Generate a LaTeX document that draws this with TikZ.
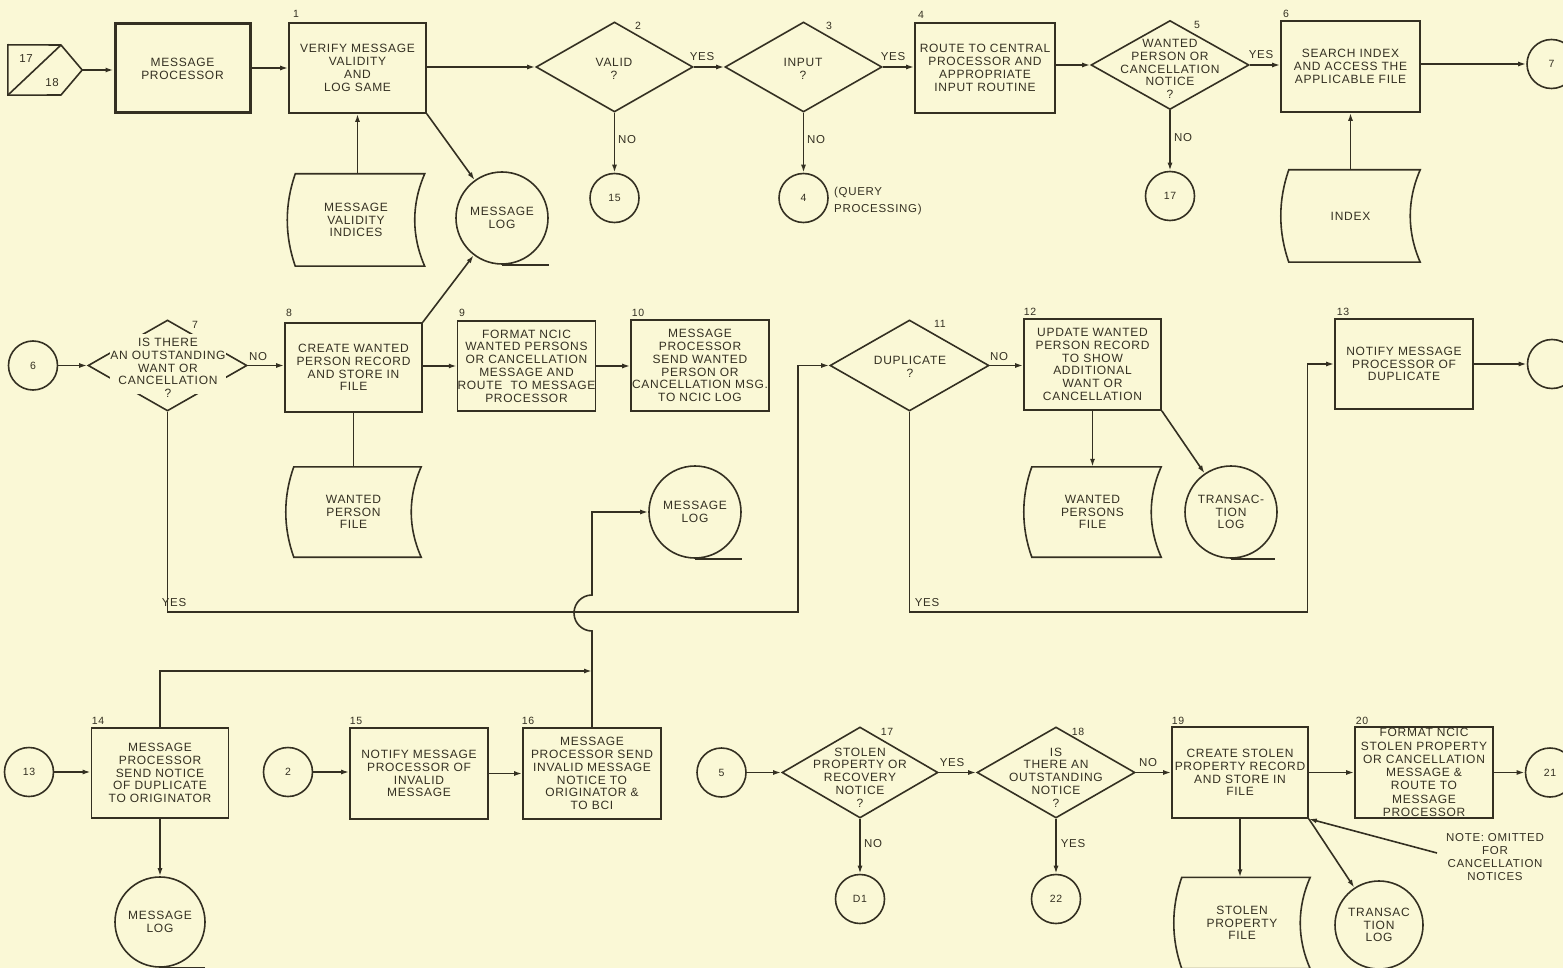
\documentclass[tikz,border=0pt]{standalone}
\usepackage{fontspec}
\setmainfont{Liberation Sans}[LetterSpace=6]
\usetikzlibrary{arrows.meta,shapes.geometric,calc}
\definecolor{bg}{RGB}{250,248,214}
\definecolor{ink}{RGB}{52,48,34}
\tikzset{
 every node/.style={font=\fontsize{12}{12.8}\selectfont, text=ink, inner sep=0pt, align=center},
 ln/.style={draw=ink, line width=1.6pt},
 arr/.style={ln, -{Latex[length=8pt,width=5pt]}},
 box/.style 2 args={rectangle, draw=ink, line width=1.6pt, minimum width=#1, minimum height=#2},
 dia/.style 2 args={diamond, draw=ink, line width=1.6pt, minimum width=#1, minimum height=#2},
 conn/.style={circle, draw=ink, line width=1.6pt, minimum size=49pt, font=\fontsize{10.5}{12}\selectfont},
 tape/.style={circle, draw=ink, line width=1.6pt, minimum size=92pt},
 docn/.style 2 args={rectangle, minimum width=#1, minimum height=#2},
 num/.style={font=\fontsize{10.5}{12}\selectfont},
 lbl/.style={font=\fontsize{11.5}{12}\selectfont},
}
\newcommand\docoutline[1]{%
 \draw[ln] ([xshift=8pt]#1.north west) -- (#1.north east)
   .. controls ($(#1.north east)!0.33!(#1.south east)+(-13.3,0)$) and ($(#1.north east)!0.67!(#1.south east)+(-13.3,0)$) .. (#1.south east)
   -- ([xshift=8pt]#1.south west)
   .. controls ($(#1.south west)!0.33!(#1.north west)+(-2.7,0)$) and ($(#1.south west)!0.67!(#1.north west)+(-2.7,0)$) .. ([xshift=8pt]#1.north west) -- cycle;}
\begin{document}
\begin{tikzpicture}[x=1pt,y=-1pt]
\fill[bg] (0,0) rectangle (1563,968);
\useasboundingbox (0,0) rectangle (1563,968);
\clip (0,0) rectangle (1563,968);

% ---------------- Row 1
\node[docn={74pt}{50pt}] (offp) at (45,70) {};
\draw[ln, line join=round] (offp.north west) -- (61,45) -- (offp.east) -- (61,95) -- (offp.south west) -- cycle;
\draw[ln] (offp.south west) -- (61,45);
\node[lbl] (o17) at (26,59) {17};
\node[lbl] (o18) at (52,83) {18};

\node[box={135pt}{89pt}, line width=3pt] (mp) at (182.5,68.5) {MESSAGE\\PROCESSOR};
\node[box={137pt}{90pt}] (b1) at (357.5,68) {VERIFY MESSAGE\\VALIDITY\\AND\\LOG SAME};
\node[num] (n1) at (296,14) {1};
\node[dia={157pt}{90pt}] (d2) at (614.5,67) {};
\node (t2) at (614,69) {VALID\\?};
\node[num] (n2) at (638,26) {2};
\node[dia={157pt}{90pt}] (d3) at (803.5,67) {};
\node (t3) at (803,69) {INPUT\\?};
\node[num] (n3) at (829,26) {3};
\node[box={140pt}{90pt}] (b4) at (985,68) {ROUTE TO CENTRAL\\PROCESSOR AND\\APPROPRIATE\\INPUT ROUTINE};
\node[num] (n4) at (921,15) {4};
\node[dia={158pt}{89pt}] (d5) at (1170,65) {};
\node (t5) at (1170,69) {WANTED\\PERSON OR\\CANCELLATION\\NOTICE\\?};
\node[num] (n5) at (1197,25) {5};
\node[box={139pt}{91pt}] (b6) at (1350.5,66.5) {SEARCH INDEX\\AND ACCESS THE\\APPLICABLE FILE};
\node[num] (n6) at (1286,14) {6};
\node[conn] (c7) at (1551.5,64) {7};
\node[conn] (c15) at (614.5,198) {15};
\node[conn] (c4) at (803.5,198) {4};
\node[anchor=west, align=left, font=\fontsize{11.5}{17}\selectfont] (qp) at (834,201.5) {(QUERY\\PROCESSING)};
\node[conn] (c17) at (1170,196) {17};
\node[docn={137pt}{92pt}] (val) at (356,220) {MESSAGE\\VALIDITY\\INDICES};
\docoutline{val}
\node[tape] (ml1) at (502,218) {MESSAGE\\LOG};
\draw[ln] (ml1.south) -- ++(47,0);
\node[docn={139pt}{92pt}] (idx) at (1350.5,216) {INDEX};
\docoutline{idx}

\draw[arr] (offp.east) -- (mp.west |- offp.east);
\draw[arr] (mp.east |- b1.west) -- (b1.west);
\draw[arr] (b1.east |- d2.west) -- (d2.west);
\draw[arr] (d2.east) -- (d3.west);
\draw[arr] (d3.east) -- (d3.east -| b4.west);
\draw[arr] (b4.east |- d5.west) -- (d5.west);
\draw[arr] (d5.east) -- (d5.east -| b6.west);
\draw[arr] (b6.east |- c7.west) -- (c7.west);
\draw[arr] (d2.south) -- (c15.north);
\draw[arr] (d3.south) -- (c4.north);
\draw[arr] (d5.south) -- (c17.north);
\draw[arr] (val.north -| b1.south) -- (b1.south);
\draw[arr] (b1.south east) -- (ml1);
\draw[arr] (idx.north) -- (idx.north |- b6.south);
\node[lbl] (y2l) at (702,57) {YES};
\node[lbl] (y3l) at (893,57) {YES};
\node[lbl] (n2l) at (627,140) {NO};
\node[lbl] (n3l) at (816,140) {NO};
\node[lbl] (y5l) at (1261,55) {YES};
\node[lbl] (n5l) at (1183,138) {NO};

% ---------------- Row 2
\node[conn] (c6) at (33,365.5) {6};
\node[dia={159pt}{91pt}] (d7) at (167.5,365.5) {};
\node[fill=bg, minimum width=116pt, minimum height=60pt] (k7) at (168,364) {};
\node (t7) at (168,368) {IS THERE\\AN OUTSTANDING\\WANT OR\\CANCELLATION\\?};
\node[num] (n7) at (195,325) {7};
\node[box={137pt}{89pt}] (b8) at (353.5,367.5) {CREATE WANTED\\PERSON RECORD\\AND STORE IN\\FILE};
\node[num] (n8) at (289,313) {8};
\node[docn={135pt}{90pt}] (wpf) at (353.5,512) {WANTED\\PERSON\\FILE};
\docoutline{wpf}
\node[box={137pt}{90pt}] (b9) at (526.5,366) {FORMAT NCIC\\WANTED PERSONS\\OR CANCELLATION\\MESSAGE AND\\ROUTE\ \ TO MESSAGE\\PROCESSOR};
\node[num] (n9) at (462,313) {9};
\node[box={138pt}{91pt}] (b10) at (700,365.5) {MESSAGE\\PROCESSOR\\SEND WANTED\\PERSON OR\\CANCELLATION MSG.\\TO NCIC LOG};
\node[num] (n10) at (638,313) {10};
\node[tape] (ml2) at (695,512) {MESSAGE\\LOG};
\draw[ln] (ml2.south) -- ++(47,0);
\node[dia={159pt}{91pt}] (d11) at (909.5,365.5) {};
\node (t11) at (910,367) {DUPLICATE\\?};
\node[num] (n11) at (940,324) {11};
\node[box={137pt}{91pt}] (b12) at (1092.5,364.5) {UPDATE WANTED\\PERSON RECORD\\TO SHOW\\ADDITIONAL\\WANT OR\\CANCELLATION};
\node[num] (n12) at (1030,312) {12};
\node[docn={137pt}{90pt}] (wpsf) at (1092.5,512) {WANTED\\PERSONS\\FILE};
\docoutline{wpsf}
\node[tape] (tl1) at (1231,512) {TRANSAC-\\TION\\LOG};
\draw[ln] (tl1.south) -- ++(44,0);
\node[box={138pt}{90pt}] (b13) at (1404,364) {NOTIFY MESSAGE\\PROCESSOR OF\\DUPLICATE};
\node[num] (n13) at (1343,312) {13};
\node[conn] (c13r) at (1552,364) {};

\draw[arr] (c6.east) -- (d7.west);
\draw[arr] (d7.east) -- (d7.east -| b8.west);
\draw[arr] (b9.west -| b8.east) -- (b9.west);
\draw[arr] (b9.east) -- (b9.east -| b10.west);
\draw[ln] (b8.south) -- (b8.south |- wpf.north);
\draw[arr] (b8.north east) -- (ml1);
\coordinate (y1) at (798,612);
\draw[arr] (d7.south) |- (y1) |- (d11.west);
\draw[arr] (d11.east) -- (d11.east -| b12.west);
\draw[arr] (b12.south) -- (b12.south |- wpsf.north);
\draw[arr] (b12.south east) -- (tl1);
\coordinate (y2) at (1307.5,612);
\draw[arr] (d11.south) |- (y2) |- (b13.west);
\draw[arr] (b13.east) -- (b13.east -| c13r.west);
\node[lbl] (n7l) at (258,357) {NO};
\node[lbl] (y7l) at (174,603) {YES};
\node[lbl] (n11l) at (999,357) {NO};
\node[lbl] (y11l) at (927,603) {YES};

% ---------------- Row 3
\node[conn] (c13) at (29,772) {13};
\node[box={137pt}{90pt}] (b14) at (160,773) {MESSAGE\\PROCESSOR\\SEND NOTICE\\OF DUPLICATE\\TO ORIGINATOR};
\node[num] (n14) at (98,721) {14};
\node[tape, minimum size=90pt] (ml3) at (160,922) {MESSAGE\\LOG};
\draw[ln] (ml3.south) -- ++(45,0);
\node[conn] (c2) at (288,772) {2};
\node[box={138pt}{91pt}] (b15) at (419,773.5) {NOTIFY MESSAGE\\PROCESSOR OF\\INVALID\\MESSAGE};
\node[num] (n15) at (356,721) {15};
\node[box={138pt}{91pt}] (b16) at (592,773.5) {MESSAGE\\PROCESSOR SEND\\INVALID MESSAGE\\NOTICE TO\\ORIGINATOR \&\\TO BCI};
\node[num] (n16) at (528,721) {16};
\node[conn] (c5) at (721.5,772.5) {5};
\node[dia={156pt}{91pt}] (d17) at (860,772.5) {};
\node (t17) at (860,777.5) {STOLEN\\PROPERTY OR\\RECOVERY\\NOTICE\\?};
\node[num] (n17) at (887,732) {17};
\node[dia={158pt}{91pt}] (d18) at (1056,772.5) {};
\node (t18) at (1056,777.5) {IS\\THERE AN\\OUTSTANDING\\NOTICE\\?};
\node[num] (n18) at (1078,732) {18};
\node[conn] (cd1) at (860,899) {D1};
\node[conn] (c22) at (1056,899) {22};
\node[box={136pt}{91pt}] (b19) at (1240,772.5) {CREATE STOLEN\\PROPERTY RECORD\\AND STORE IN\\FILE};
\node[num] (n19) at (1178,721) {19};
\node[box={138pt}{91pt}, font=\fontsize{12}{13.3}\selectfont] (b20) at (1424,772.5) {FORMAT NCIC\\STOLEN PROPERTY\\OR CANCELLATION\\MESSAGE \&\\ROUTE TO\\MESSAGE\\PROCESSOR};
\node[num] (n20) at (1362,721) {20};
\node[conn] (c21) at (1550,772.5) {21};
\node[docn={136pt}{91pt}] (spf) at (1242,923) {STOLEN\\PROPERTY\\FILE};
\docoutline{spf}
\node[tape, minimum size=88pt] (tl2) at (1379,925) {TRANSAC\\TION\\LOG};
\draw[ln] (tl2.south) -- ++(46,0);
\node[font=\fontsize{11.5}{13.3}\selectfont] (note) at (1495,857) {NOTE: OMITTED\\FOR\\CANCELLATION\\NOTICES};
\coordinate (ntail) at (1437,853);

\draw[arr] (c13.east) -- (c13.east -| b14.west);
\draw[arr] (b14.south) -- (ml3.north);
\coordinate (m1) at (592,671);
\draw[arr] (b14.north) |- (m1);
\draw[arr] (c2.east) -- (c2.east -| b15.west);
\draw[arr] (b15.east) -- (b15.east -| b16.west);
\coordinate (jb) at (592,631);
\coordinate (jt) at (592,595);
\draw[arr] (b16.north) -- (jb) .. controls (582.06,631) and (574,622.94) .. (574,613) .. controls (574,603.06) and (582.06,595) .. (jt) |- (ml2.west);
\draw[arr] (c5.east) -- (c5.east -| d17.west);
\draw[arr] (d17.east) -- (d18.west);
\draw[arr] (d18.east) -- (d18.east -| b19.west);
\draw[arr] (b19.east) -- (b19.east -| b20.west);
\draw[arr] (b20.east) -- (b20.east -| c21.west);
\draw[arr] (d17.south) -- (cd1.north);
\draw[arr] (d18.south) -- (c22.north);
\draw[arr] (b19.south) -- (b19.south |- spf.north);
\draw[arr] (b19.south east) -- (tl2);
\draw[arr] (ntail) -- (b19.south east);
\node[lbl] (y17l) at (952,763) {YES};
\node[lbl] (n18l) at (1148,763) {NO};
\node[lbl] (n17l) at (873,844) {NO};
\node[lbl] (y18l) at (1073,844) {YES};
\end{tikzpicture}
\end{document}
